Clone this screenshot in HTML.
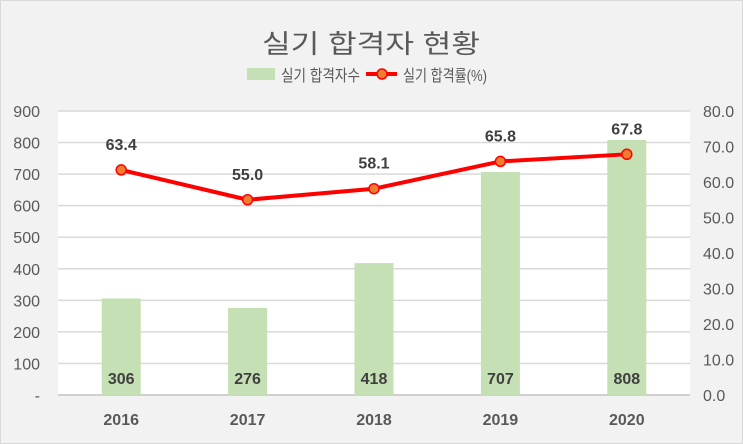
<!DOCTYPE html>
<html><head><meta charset="utf-8"><style>
body{margin:0;background:#f2f2f2}
svg{display:block;font-family:"Liberation Sans","Noto Sans CJK KR",sans-serif}
</style></head><body>
<svg width="743" height="444">
<rect x="0.5" y="0.5" width="742" height="443" fill="#f2f2f2" stroke="#d9d9d9"/>
<text x="262" y="53" textLength="218" lengthAdjust="spacingAndGlyphs" font-size="26" fill="#595959">실기 합격자 현황</text>
<g>
<rect x="247" y="68" width="28" height="12" fill="#c5e0b4"/>
<text x="281" y="81" textLength="79" lengthAdjust="spacingAndGlyphs" font-size="16" fill="#595959">실기 합격자수</text>
<line x1="366" y1="74" x2="397" y2="74" stroke="#ff0000" stroke-width="4"/>
<circle cx="382" cy="74" r="5" fill="#ed7d31" stroke="#ff0000" stroke-width="1.5"/>
<text x="403" y="81" textLength="84" lengthAdjust="spacingAndGlyphs" font-size="16" fill="#595959">실기 합격률(%)</text>
</g>
<rect x="58" y="111" width="632" height="284" fill="#fff"/>
<g id="grid"></g><g id="bars"></g><g id="line"></g><g id="labels"></g>
</svg>
<script>
const categories=["2016","2017","2018","2019","2020"];
const counts=[306,276,418,707,808];
const rates=[63.4,55.0,58.1,65.8,67.8];
const leftTicks=[0,100,200,300,400,500,600,700,800,900];
const rightTicks=[0,10,20,30,40,50,60,70,80];
const NS="http://www.w3.org/2000/svg";
const X0=58,X1=690,Y0=395,Y1=111;
const bw=(X1-X0)/categories.length;
const xc=i=>X0+bw*(i+0.5);
const yl=v=>Y0-(v/900)*(Y0-Y1);
const yr=v=>Y0-(v/80)*(Y0-Y1);
function mk(tag,attrs,parent,txt){const e=document.createElementNS(NS,tag);for(const k in attrs)e.setAttribute(k,attrs[k]);if(txt!==undefined)e.textContent=txt;document.getElementById(parent).appendChild(e);return e;}
leftTicks.forEach(t=>{
 const g=mk('line',{x1:X0,x2:X1,y1:yl(t),y2:yl(t),stroke:t===0?'#d0d0d0':'#d9d9d9','stroke-width':t===0?2:1.5},'grid');
 
 
 const l=mk('text',{x:40,y:yl(t)+6,'text-anchor':'end','font-size':16,fill:'#595959'},'grid',t===0?'-':String(t));
 
 
});
rightTicks.forEach(t=>{
 const l=mk('text',{x:703,y:yr(t)+6,'font-size':16,fill:'#595959'},'grid',t.toFixed(1));
 
 
});
categories.forEach((c,i)=>{
 const b=mk('rect',{x:xc(i)-19.5,y:yl(counts[i]),width:39,height:Y0-yl(counts[i]),fill:'#c5e0b4'},'bars');
 
 
 const bl=mk('text',{x:xc(i),y:384,'text-anchor':'middle','font-size':16,'font-weight':'bold',fill:'#404040'},'labels',String(counts[i]));
 
 
 const xl=mk('text',{x:xc(i),y:425,'text-anchor':'middle','font-size':16,'font-weight':'bold',fill:'#595959'},'labels',c);
 
 
});
const pts=rates.map((r,i)=>xc(i)+','+yr(r)).join(' ');
const pl=mk('polyline',{points:pts,fill:'none',stroke:'#ff0000','stroke-width':4,'stroke-linejoin':'round'},'line');


rates.forEach((r,i)=>{
 const c=mk('circle',{cx:xc(i),cy:yr(r),r:5,fill:'#ed7d31',stroke:'#ff0000','stroke-width':1.5},'line');
 
 
 const t=mk('text',{x:xc(i),y:yr(r)-20,'text-anchor':'middle','font-size':16,'font-weight':'bold',fill:'#404040'},'labels',r.toFixed(1));
 
 
});
</script>
</body></html>
